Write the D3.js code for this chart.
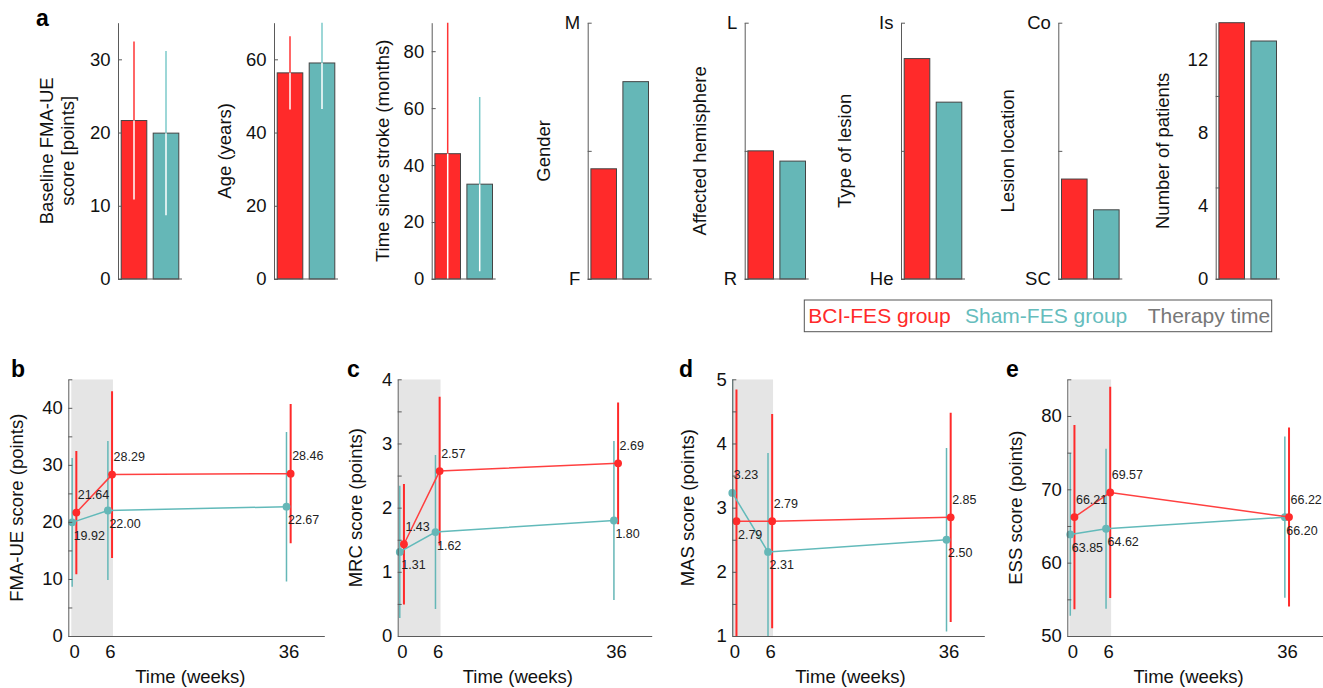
<!DOCTYPE html>
<html>
<head>
<meta charset="utf-8">
<script src="https://cdn.jsdelivr.net/npm/d3@7/dist/d3.min.js"></script>
<style>
  body { margin: 0; background: #fff; }
  svg { display: block; font-family: "Liberation Sans", Arial, Helvetica, sans-serif; }
</style>
</head>
<body>
<svg id="chart" width="1323" height="688"></svg>
<script>
// ---------------- DATA ----------------
const groups = ["BCI-FES group", "Sham-FES group"];
const legendLabels = ["BCI-FES group", "Sham-FES group", "Therapy time"];

// panel a (bar charts)
const baselineMean = [21.64, 19.92];
const baselineSD = [10.8, 11.2];
const ageMean = [56.3, 59.0];
const ageSD = [10.0, 12.6];
const strokeMean = [44.0, 33.3];
const strokeSD = [47.0, 30.6];
const genderVals = [0.43, 0.77];
const hemisphereVals = [0.50, 0.46];
const lesionTypeVals = [0.86, 0.69];
const lesionLocVals = [0.39, 0.27];
const patientCounts = [14, 13];

const baselineTicks = [0, 10, 20, 30];
const ageTicks = [0, 20, 40, 60];
const strokeTicks = [0, 20, 40, 60, 80];
const genderTicks = ["F", "M"];
const hemisphereTicks = ["R", "L"];
const lesionTypeTicks = ["He", "Is"];
const lesionLocTicks = ["SC", "Co"];
const patientTickMarks = [0, 5, 10];
const patientTickLabels = [0, 4, 8, 12];

// panels b-e (time courses)
const weeks = [0, 6, 36];
const therapyWindow = [-0.5, 6.5];

const fmaBCI = [21.64, 28.29, 28.46];
const fmaBCIsd = [10.8, 14.6, 12.2];
const fmaSham = [19.92, 22.00, 22.67];
const fmaShamSd = [11.3, 12.2, 13.1];

const mrcBCI = [1.43, 2.57, 2.69];
const mrcBCIsd = [0.94, 1.16, 0.95];
const mrcSham = [1.31, 1.62, 1.80];
const mrcShamSd = [1.03, 1.20, 1.24];

const masBCI = [2.79, 2.79, 2.85];
const masBCIsd = [2.05, 1.67, 1.63];
const masSham = [3.23, 2.31, 2.50];
const masShamSd = [2.30, 1.54, 1.43];

const essBCI = [66.21, 69.57, 66.22];
const essBCIsd = [12.55, 14.4, 12.2];
const essSham = [63.85, 64.62, 66.20];
const essShamSd = [11.1, 10.9, 11.0];

// ---------------- STYLE ----------------
const RED = "#ff2a2a", TEAL = "#65b7b7";
const RED_ERR = "#ff3535", TEAL_ERR = "#7ccaca";
const AXIS = "#5a5a5a";
const FONT = "\"Liberation Sans\", Arial, Helvetica, sans-serif";

const svg = d3.select("#chart");

function styleAxis(g, size) {
  g.attr("font-family", FONT).attr("font-size", size);
  g.select(".domain").attr("stroke", AXIS).attr("stroke-width", 1);
  g.selectAll(".tick line").attr("stroke", AXIS).attr("stroke-width", 1);
  g.selectAll(".tick text").attr("fill", "#111");
}

// ---------------- PANEL a ----------------
const topY0 = 279, topY1 = 22.7, barW = 64;
const topPanels = [
  {label: ["Baseline FMA-UE", "score [points]"], x: 118, dom: [0, 35], mean: baselineMean, sd: baselineSD, marks: baselineTicks, labels: baselineTicks.map(String), labOff: 65},
  {label: ["Age (years)"], x: 274, dom: [0, 70], mean: ageMean, sd: ageSD, marks: ageTicks, labels: ageTicks.map(String), labOff: 43},
  {label: ["Time since stroke (months)"], x: 431.7, dom: [0, 90], mean: strokeMean, sd: strokeSD, marks: strokeTicks, labels: strokeTicks.map(String), labOff: 42.7},
  {label: ["Gender"], x: 587.7, dom: [0, 1], mean: genderVals, marks: [0, 0.5, 1], labelVals: [0, 1], labels: genderTicks, labOff: 37.7},
  {label: ["Affected hemisphere"], x: 744.7, dom: [0, 1], mean: hemisphereVals, marks: [0, 0.5, 1], labelVals: [0, 1], labels: hemisphereTicks, labOff: 38.7},
  {label: ["Type of lesion"], x: 901, dom: [0, 1], mean: lesionTypeVals, marks: [0, 0.5, 1], labelVals: [0, 1], labels: lesionTypeTicks, labOff: 50},
  {label: ["Lesion location"], x: 1058.3, dom: [0, 1], mean: lesionLocVals, marks: [0, 0.5, 1], labelVals: [0, 1], labels: lesionLocTicks, labOff: 44.3},
  {label: ["Number of patients"], x: 1215.7, dom: [0, 14], mean: patientCounts, marks: patientTickMarks, labelVals: patientTickLabels, labels: patientTickLabels.map(String), labOff: 46.7}
];

topPanels.forEach((p, pi) => {
  const y = d3.scaleLinear().domain(p.dom).range([topY0, topY1]);
  const x = d3.scaleBand().domain([0, 1]).range([p.x, p.x + barW]).paddingInner(0.2).paddingOuter(0.1);
  const g = svg.append("g");
  const clipId = "clipTop" + pi;
  svg.append("clipPath").attr("id", clipId).append("rect")
    .attr("x", p.x).attr("y", topY1).attr("width", barW).attr("height", topY0 - topY1);

  // bars
  g.selectAll("rect.bar").data(p.mean).join("rect")
    .attr("x", (d, i) => x(i)).attr("width", x.bandwidth())
    .attr("y", d => y(d)).attr("height", d => y(p.dom[0]) - y(d))
    .attr("fill", (d, i) => i === 0 ? RED : TEAL)
    .attr("stroke", "#444").attr("stroke-width", 1);

  // error bars
  if (p.sd) {
    const eg = g.append("g").attr("clip-path", `url(#${clipId})`);
    p.mean.forEach((m, i) => {
      const cx = x(i) + x.bandwidth() / 2;
      eg.append("line").attr("x1", cx).attr("x2", cx)
        .attr("y1", y(m)).attr("y2", y(m + p.sd[i]))
        .attr("stroke", i === 0 ? RED_ERR : TEAL_ERR).attr("stroke-width", 1.5);
      eg.append("line").attr("x1", cx).attr("x2", cx)
        .attr("y1", y(m)).attr("y2", y(Math.max(p.dom[0], m - p.sd[i])))
        .attr("stroke", "#ffffff").attr("stroke-width", 1.5);
    });
  }

  // bottom axis line
  g.append("line").attr("x1", p.x).attr("x2", p.x + barW).attr("y1", topY0).attr("y2", topY0)
    .attr("stroke", AXIS).attr("stroke-width", 1);

  // left axis: marks
  const axMarks = g.append("g").attr("transform", `translate(${p.x},0)`)
    .call(d3.axisLeft(y).tickValues(p.marks).tickFormat("").tickSizeInner(-4).tickSizeOuter(0));
  styleAxis(axMarks, 18.5);
  // left axis: labels
  const lv = p.labelVals || p.marks;
  const axLab = g.append("g").attr("transform", `translate(${p.x},0)`)
    .call(d3.axisLeft(y).tickValues(lv).tickFormat((d, i) => p.labels[i]).tickSize(0).tickPadding(7.5));
  styleAxis(axLab, 18.5);
  axLab.select(".domain").remove();

  // axis title
  const t = g.append("text")
    .attr("transform", `translate(${p.x - p.labOff},${(topY0 + topY1) / 2}) rotate(-90)`)
    .attr("text-anchor", "middle").attr("font-size", 18.5).attr("fill", "#111");
  p.label.forEach((s, k) => t.append("tspan").attr("x", 0).attr("dy", k === 0 ? 0 : 21).text(s));
});

svg.append("text").attr("x", 36).attr("y", 26).attr("font-size", 23).attr("font-weight", "bold").text("a");

// legend
const legG = svg.append("g");
legG.append("rect").attr("x", 804.3).attr("y", 300).attr("width", 467.4).attr("height", 31.7)
  .attr("fill", "#fff").attr("stroke", "#555").attr("stroke-width", 1);
const legX = [808.3, 965, 1147.7];
const legC = [RED, "#66bdbd", "#777777"];
legendLabels.forEach((s, i) => {
  legG.append("text").attr("x", legX[i]).attr("y", 323.3).attr("font-size", 21).attr("fill", legC[i]).text(s);
});

// ---------------- PANELS b-e ----------------
const botY0 = 636, botY1 = 379.3;
const botPanels = [
  {letter: "b", letterX: 11, left: 68.3, right: 324.3, xmin: -1, ydom: [0, 45], minor: 5, major: 10,
   title: "FMA-UE score (points)", titleOff: 45, bci: fmaBCI, bciSd: fmaBCIsd, sham: fmaSham, shamSd: fmaShamSd},
  {letter: "c", letterX: 347, left: 397.7, right: 651.7, xmin: -0.7, ydom: [0, 4], minor: 0.5, major: 1,
   title: "MRC score (points)", titleOff: 35.7, bci: mrcBCI, bciSd: mrcBCIsd, sham: mrcSham, shamSd: mrcShamSd},
  {letter: "d", letterX: 679, left: 732.3, right: 984.3, xmin: -0.35, ydom: [1, 5], minor: 0.5, major: 1,
   title: "MAS score (points)", titleOff: 38.8, bci: masBCI, bciSd: masBCIsd, sham: masSham, shamSd: masShamSd},
  {letter: "e", letterX: 1006, left: 1067.3, right: 1322.7, xmin: -0.85, ydom: [50, 85], minor: 5, major: 10,
   title: "ESS score (points)", titleOff: 45.8, bci: essBCI, bciSd: essBCIsd, sham: essSham, shamSd: essShamSd}
];
const groupOffset = 0.35;

botPanels.forEach((p, pi) => {
  const x = d3.scaleLinear().domain([p.xmin, 42]).range([p.left, p.right]);
  const y = d3.scaleLinear().domain(p.ydom).range([botY0, botY1]);
  const g = svg.append("g");
  const clipId = "clipBot" + pi;
  svg.append("clipPath").attr("id", clipId).append("rect")
    .attr("x", p.left).attr("y", botY1).attr("width", p.right - p.left).attr("height", botY0 - botY1);
  const cg = g.append("g").attr("clip-path", `url(#${clipId})`);

  // therapy shading
  cg.append("rect").attr("x", x(therapyWindow[0])).attr("width", x(therapyWindow[1]) - x(therapyWindow[0]))
    .attr("y", botY1).attr("height", botY0 - botY1).attr("fill", "#e5e5e5");

  const series = [
    {vals: p.sham, sd: p.shamSd, color: TEAL, line: "#62baba", ew: 1.5, off: -groupOffset},
    {vals: p.bci, sd: p.bciSd, color: RED, line: "#ff4040", ew: 2, off: groupOffset}
  ];

  // error bars
  series.forEach(s => {
    cg.selectAll(null).data(s.vals).join("line")
      .attr("x1", (d, i) => x(weeks[i] + s.off)).attr("x2", (d, i) => x(weeks[i] + s.off))
      .attr("y1", (d, i) => y(d - s.sd[i])).attr("y2", (d, i) => y(d + s.sd[i]))
      .attr("stroke", s.color).attr("stroke-width", s.ew);
  });
  // lines and markers
  series.forEach(s => {
    const line = d3.line().x((d, i) => x(weeks[i] + s.off)).y(d => y(d));
    g.append("path").datum(s.vals).attr("d", line).attr("fill", "none")
      .attr("stroke", s.line).attr("stroke-width", 1.5);
    g.selectAll(null).data(s.vals).join("circle")
      .attr("cx", (d, i) => x(weeks[i] + s.off)).attr("cy", d => y(d)).attr("r", 3.9)
      .attr("fill", s.color);
  });
  // value labels: higher value above, lower below
  series.forEach((s, si) => {
    const other = series[1 - si];
    g.selectAll(null).data(s.vals).join("text")
      .attr("x", (d, i) => x(weeks[i] + s.off) + 1.5)
      .attr("y", (d, i) => {
        const above = si === 1 ? d >= other.vals[i] : d > other.vals[i];
        return y(d) + (above ? -13.5 : 17.5);
      })
      .attr("font-size", 12.5).attr("fill", "#222")
      .text(d => d.toFixed(2));
  });

  // axes
  const minorVals = d3.range(p.ydom[0], p.ydom[1] + 1e-9, p.minor);
  const majorVals = d3.range(p.ydom[0], p.ydom[1] + 1e-9, p.major);
  const ayM = g.append("g").attr("transform", `translate(${p.left},0)`)
    .call(d3.axisLeft(y).tickValues(minorVals).tickFormat("").tickSizeInner(-4).tickSizeOuter(0));
  styleAxis(ayM, 18.5);
  const ayL = g.append("g").attr("transform", `translate(${p.left},0)`)
    .call(d3.axisLeft(y).tickValues(majorVals).tickFormat(d3.format("d")).tickSize(0).tickPadding(5.5));
  styleAxis(ayL, 18.5);
  ayL.select(".domain").remove();

  const ax = g.append("g").attr("transform", `translate(0,${botY0})`)
    .call(d3.axisBottom(x).tickValues(weeks).tickFormat(d3.format("d")).tickSize(0).tickPadding(9));
  styleAxis(ax, 18.5);

  // titles
  g.append("text").attr("x", x(19.5)).attr("y", 683).attr("text-anchor", "middle")
    .attr("font-size", 18.5).attr("fill", "#111").text("Time (weeks)");
  g.append("text").attr("transform", `translate(${p.left - p.titleOff},${(botY0 + botY1) / 2}) rotate(-90)`)
    .attr("text-anchor", "middle").attr("font-size", 18.5).attr("fill", "#111").text(p.title);
  svg.append("text").attr("x", p.letterX).attr("y", 377).attr("font-size", 23).attr("font-weight", "bold").text(p.letter);
});
</script>
</body>
</html>
